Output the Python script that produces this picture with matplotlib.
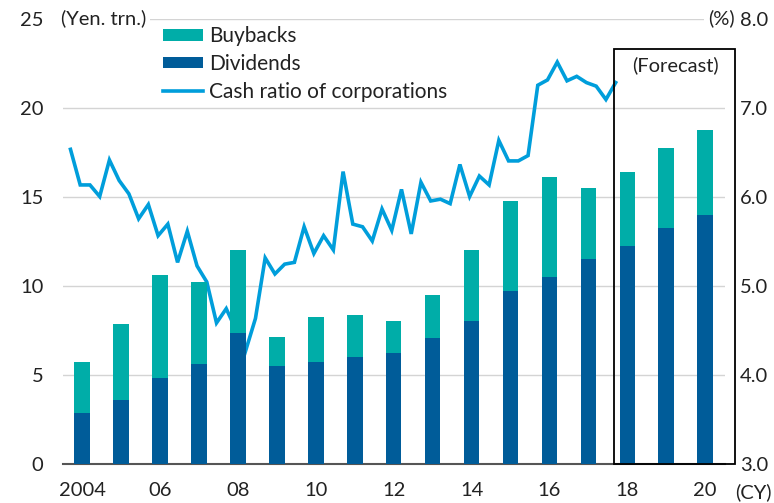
import matplotlib
matplotlib.use('Agg')
import matplotlib.pyplot as plt
from matplotlib.patches import Rectangle
import numpy as np

plt.rcParams['font.family'] = ['Lato', 'DejaVu Sans']

# annual payouts, trillion yen (2018-2020 forecast)
years = list(range(2004, 2021))
dividends = [2.83, 3.59, 4.83, 5.58, 7.35, 5.47, 5.71, 5.96, 6.22, 7.07, 7.98, 9.71,
             10.46, 11.48, 12.22, 13.24, 13.97]
totals = [5.71, 7.84, 10.6, 10.22, 11.97, 7.09, 8.22, 8.35, 7.98, 9.49, 11.97, 14.73,
          16.09, 15.48, 16.37, 17.73, 18.72]
buybacks = [t - d for t, d in zip(totals, dividends)]

# quarterly cash ratio of corporations (%), 2004 Q1 .. 2018 Q1
cash_ratio = [6.53, 6.13, 6.13, 6.00, 6.41, 6.18, 6.03, 5.75, 5.91, 5.56, 5.69, 5.26,
              5.61, 5.22, 5.04, 4.58, 4.74, 4.50, 4.27, 4.63, 5.31, 5.13, 5.24, 5.26,
              5.66, 5.36, 5.56, 5.40, 6.28, 5.69, 5.66, 5.50, 5.86, 5.62, 6.08, 5.58,
              6.16, 5.95, 5.97, 5.92, 6.36, 6.00, 6.23, 6.13, 6.63, 6.40, 6.40, 6.46,
              7.25, 7.31, 7.51, 7.30, 7.35, 7.28, 7.24, 7.09, 7.28]
year_labels = ['2004', '06', '08', '10', '12', '14', '16', '18', '20']

teal = '#00ADA8'
navy = '#005C99'
sky = '#009EDB'
fs = 14.5

fig = plt.figure(figsize=(7.74, 5.03), dpi=100)
ax2 = fig.add_axes([0.081, 0.0785, 0.8553, 0.8847])
ax = ax2.twinx()
ax.set_zorder(ax2.get_zorder() + 1)
ax.patch.set_visible(False)

# line + grid on the right axis (drawn underneath bars)
qx = 2003.7 + 0.25 * np.arange(len(cash_ratio))
ln, = ax2.plot(qx, cash_ratio, color=sky, lw=2.6, solid_joinstyle='miter',
               label='Cash ratio of corporations')
ax2.set_ylim(3.0, 8.0)
ax2.set_yticks(np.arange(3.0, 8.01, 1.0))
ax2.set_yticklabels(['{:.1f}'.format(v) for v in np.arange(3.0, 8.01, 1.0)])
ax2.grid(axis='y', color='#d4d4d4', lw=1.0)
ax2.yaxis.tick_right()
ax2.tick_params(axis='y', length=0, pad=11, labelsize=fs, colors='#222222')

# bars on the left axis
b1 = ax.bar(years, dividends, width=0.4, color=navy, label='Dividends', zorder=3)
b2 = ax.bar(years, buybacks, width=0.4, bottom=dividends, color=teal, label='Buybacks', zorder=3)
ax.set_ylim(0, 25)
ax.set_yticks(range(0, 26, 5))
ax.yaxis.tick_left()
ax.tick_params(axis='y', length=0, pad=14, labelsize=fs, colors='#222222')

for a in (ax, ax2):
    a.set_xlim(2003.5, 2020.5)
    for s in ('top', 'left', 'right'):
        a.spines[s].set_visible(False)
ax.spines['bottom'].set_visible(False)
ax2.spines['bottom'].set_color('#555555')
ax2.spines['bottom'].set_linewidth(1.5)

# x ticks: marks between years, labels under the bars
ax2.set_xticks(np.arange(2003.5, 2021, 1.0))
ax2.set_xticklabels([])
ax2.tick_params(axis='x', direction='out', length=5, width=1.2, color='#555555')
ax.set_xticks([])
ax2.set_xticks(range(2004, 2021, 2), minor=True)
ax2.set_xticklabels(year_labels, minor=True)
ax2.tick_params(axis='x', which='minor', length=0, pad=13, labelsize=fs, colors='#222222')
fig.text(753 / 774, 1 - 492 / 503, '(CY)', ha='center', va='center', fontsize=fs, color='#222222')

# unit labels
ax.text(-0.003, 25, '(Yen. trn.)', ha='left', va='center', fontsize=fs, color='#222222',
        transform=ax.get_yaxis_transform(),
        bbox=dict(facecolor='white', edgecolor='none', pad=3))
ax.text(1.0155, 25, '(%)', ha='right', va='center', fontsize=fs, color='#222222',
        transform=ax.get_yaxis_transform(),
        bbox=dict(facecolor='white', edgecolor='none', pad=3))

# forecast box
ax.add_patch(Rectangle((2017.67, 0), 3.09, 23.3, fill=False, edgecolor='black', lw=1.3,
                       clip_on=False, zorder=4))
ax.text(2019.24, 22.4, '(Forecast)', ha='center', va='center', fontsize=fs, color='#222222')

ax.legend([b2, b1, ln], ['Buybacks', 'Dividends', 'Cash ratio of corporations'],
          loc='upper left', bbox_to_anchor=(163 / 774, 1 - 26 / 503),
          bbox_transform=fig.transFigure, frameon=False, fontsize=15,
          borderaxespad=0, borderpad=0, handlelength=1.9, handleheight=0.5,
          handletextpad=0.33, labelspacing=0.38, labelcolor='#222222')

fig.savefig('out.png', dpi=100)
